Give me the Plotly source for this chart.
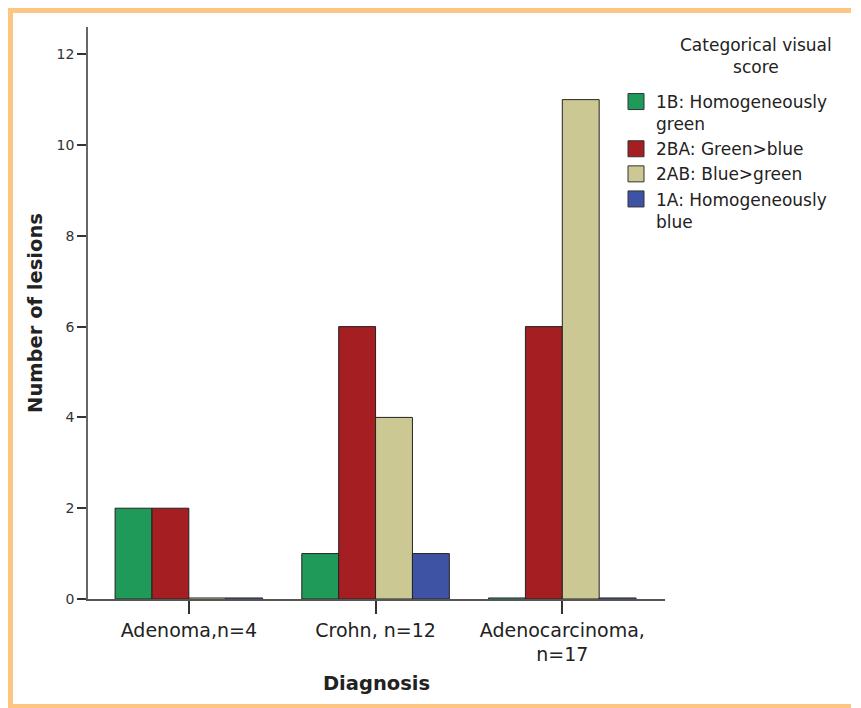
import plotly.graph_objects as go

# ---- data ----
categories = ["Adenoma,n=4", "Crohn, n=12", "Adenocarcinoma,<br>n=17"]
series_names = ["1B: Homogeneously<br>green", "2BA: Green>blue",
                "2AB: Blue>green", "1A: Homogeneously<br>blue"]
green_1b = [2, 1, 0]
red_2ba = [2, 6, 6]
tan_2ab = [0, 4, 11]
blue_1a = [0, 1, 0]
y_ticks = [0, 2, 4, 6, 8, 10, 12]
legend_title = "Categorical visual<br>score"

series_values = [green_1b, red_2ba, tan_2ab, blue_1a]
colors = ["#1F9A58", "#A41E22", "#CCC894", "#3F53A5"]

# ---- layout constants (page body has an 8px margin) ----
OFF = 8
W, H = 861 - OFF, 708 - OFF
ML, MT = 88 - OFF, 27 - OFF
PW, PH = 577, 572
MR = W - ML - PW
MB = H - MT - PH


def px_x(px):  # px measured in the 861x708 window
    return (px - OFF - ML) / PW


def px_y(py):
    return (MT + PH - (py - OFF)) / PH


ZERO_H = 0.045  # zero-count bars drawn as a thin line at the baseline

fig = go.Figure()
for name, vals, col in zip(series_names, series_values, colors):
    heights = [v if v > 0 else ZERO_H for v in vals]
    bases = [0 if v > 0 else -ZERO_H / 2 for v in vals]
    fig.add_trace(go.Bar(
        x=categories, y=heights, base=bases, name=name,
        customdata=vals, hovertemplate="%{customdata}<extra></extra>",
        marker=dict(color=col, line=dict(color="#222222", width=1)),
        showlegend=False, legendgroup=name,
    ))
# legend entries with larger square swatches
for name, col in zip(series_names, colors):
    fig.add_trace(go.Scatter(
        x=[None], y=[None], mode="markers", name=name, legendgroup=name,
        marker=dict(symbol="square", size=16, color=col,
                    line=dict(color="#333333", width=1)),
        showlegend=True, hoverinfo="skip",
    ))

BORDER = "#FDC482"
border_lines = [
    (7, 10, 851, 10),     # top
    (10, 7, 10, 712),     # left
    (7, 707, 851, 707),   # bottom
]
shapes = [dict(type="line", xref="paper", yref="paper", layer="above",
               x0=px_x(a), y0=px_y(b), x1=px_x(c), y1=px_y(d),
               line=dict(color=BORDER, width=6))
          for a, b, c, d in border_lines]

fig.update_layout(
    width=W, height=H,
    margin=dict(l=ML, r=MR, t=MT, b=MB, pad=0),
    paper_bgcolor="white", plot_bgcolor="white",
    barmode="group", bargap=0.21, bargroupgap=0,
    font=dict(family="DejaVu Sans", color="#222222"),
    showlegend=True,
    legend=dict(
        x=px_x(616), y=px_y(84), xanchor="left", yanchor="top",
        bgcolor="rgba(0,0,0,0)", borderwidth=0,
        font=dict(size=17, family="DejaVu Sans", color="#222222"),
        valign="top", tracegroupgap=0, itemsizing="trace",
        traceorder="normal",
    ),
    annotations=[dict(
        text=legend_title, xref="paper", yref="paper",
        x=px_x(756), y=px_y(56), xanchor="center", yanchor="middle",
        align="center", showarrow=False,
        font=dict(size=17, family="DejaVu Sans", color="#222222"),
    )],
    xaxis=dict(
        range=[-0.54, 2.55], showgrid=False, zeroline=False,
        showline=True, linecolor="#555555", linewidth=1.5,
        ticks="outside", ticklen=13, tickwidth=1.5, tickcolor="#333333",
        tickfont=dict(size=19, family="DejaVu Sans", color="#222222"),
        title=dict(text="<b>Diagnosis</b>", standoff=12,
                   font=dict(size=19.5, family="DejaVu Sans", color="#222222")),
    ),
    yaxis=dict(
        range=[0, 12.6], tickvals=y_ticks, showgrid=False, zeroline=False,
        showline=True, linecolor="#666666", linewidth=1.5,
        ticks="outside", ticklen=9, tickwidth=2, tickcolor="#333333",
        tickfont=dict(size=14, family="DejaVu Sans", color="#333333"),
        title=dict(text="<b>Number of lesions</b>", standoff=9,
                   font=dict(size=19.5, family="DejaVu Sans", color="#222222")),
    ),
    shapes=shapes,
)

fig.write_html("out.html")
